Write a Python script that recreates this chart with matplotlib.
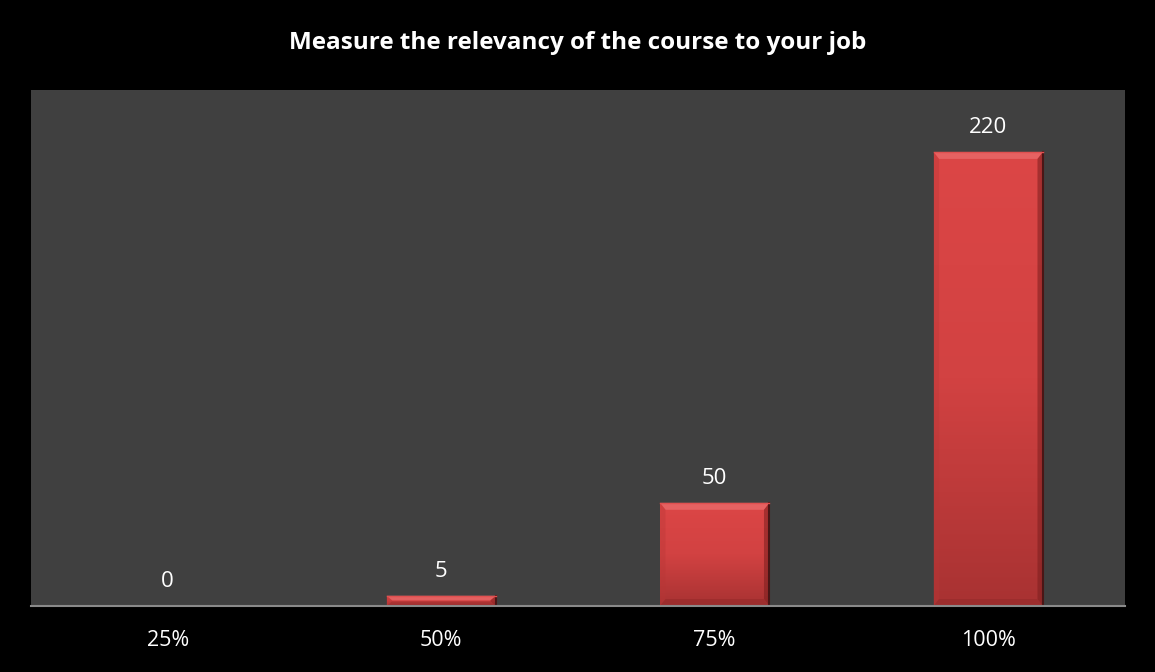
import matplotlib
matplotlib.use("Agg")
import matplotlib.pyplot as plt
import numpy as np
from matplotlib.patches import Polygon
from matplotlib.colors import LinearSegmentedColormap

# Survey responses: relevance of the course to the respondent's job
categories = ["25%", "50%", "75%", "100%"]
counts = [0, 5, 50, 220]
title = "Measure the relevancy of the course to your job"

plt.rcParams['font.family'] = ['Open Sans', 'DejaVu Sans']

W, H = 1155, 672
fig = plt.figure(figsize=(W / 100, H / 100), dpi=100, facecolor="black")
ax = fig.add_axes([31 / W, 66 / H, 1094 / W, 516 / H])
ax.set_facecolor("#404040")

x = np.arange(len(categories))
width = 0.4
bars = ax.bar(x, counts, width=width, color="#d44040", zorder=2)

ax.set_xlim(-0.5, len(categories) - 0.5)
ax.set_ylim(0, 250)

# vertical shading inside each bar
grad = np.linspace(0, 1, 256).reshape(-1, 1)
cmap = LinearSegmentedColormap.from_list("barshade", ["#a83232", "#d24242", "#dc4646"])
px_y = 250 / 516  # data units per pixel vertically
for rect, v in zip(bars, counts):
    if v <= 0:
        continue
    x0, w = rect.get_x(), rect.get_width()
    im = ax.imshow(grad, cmap=cmap, aspect="auto", origin="lower",
                   extent=[x0, x0 + w, 0, v], zorder=2.1)
    im.set_clip_path(rect)
    # soft bevel: lighter top edge, darker sides
    bx = w * 0.05
    by = min(v * 0.45, 7 * px_y)
    top = Polygon([[x0, v], [x0 + w, v], [x0 + w - bx, v - by], [x0 + bx, v - by]],
                  closed=True, facecolor="#f07a7a", edgecolor="none", alpha=0.55, zorder=2.2)
    left = Polygon([[x0, v], [x0 + bx, v - by], [x0 + bx, by], [x0, 0]],
                   closed=True, facecolor="#b83636", edgecolor="none", alpha=0.35, zorder=2.2)
    right = Polygon([[x0 + w, v], [x0 + w - bx, v - by], [x0 + w - bx, by], [x0 + w, 0]],
                    closed=True, facecolor="#7a1e1e", edgecolor="none", alpha=0.55, zorder=2.2)
    bottom = Polygon([[x0, 0], [x0 + w, 0], [x0 + w - bx, by], [x0 + bx, by]],
                     closed=True, facecolor="#8a2626", edgecolor="none", alpha=0.4, zorder=2.2)
    for p in (top, left, right, bottom):
        ax.add_patch(p)
    ax.plot([x0 + w, x0 + w], [0, v], color="#4a1616", lw=1.5, zorder=2.3)
    ax.plot([x0, x0 + w], [v, v], color="#e05050", lw=1.0, zorder=2.3)

for xi, v in zip(x, counts):
    ax.annotate(str(v), xy=(xi, v), xytext=(0, 13.5), textcoords="offset points",
                ha="center", va="baseline", color="white", fontsize=16, zorder=3)

ax.set_xticks(x)
ax.set_xticklabels(categories, color="white", fontsize=15.5)
ax.tick_params(axis="x", length=0, pad=17)
ax.set_yticks([])
for side in ("top", "left", "right"):
    ax.spines[side].set_visible(False)
ax.spines["bottom"].set_color("#8a8a8a")
ax.spines["bottom"].set_linewidth(1.5)

fig.text(0.5, 1 - 49 / H, title, ha="center", va="baseline", color="white",
         fontsize=17.5, fontweight="bold")

fig.savefig("out.png", dpi=100, facecolor="black")
